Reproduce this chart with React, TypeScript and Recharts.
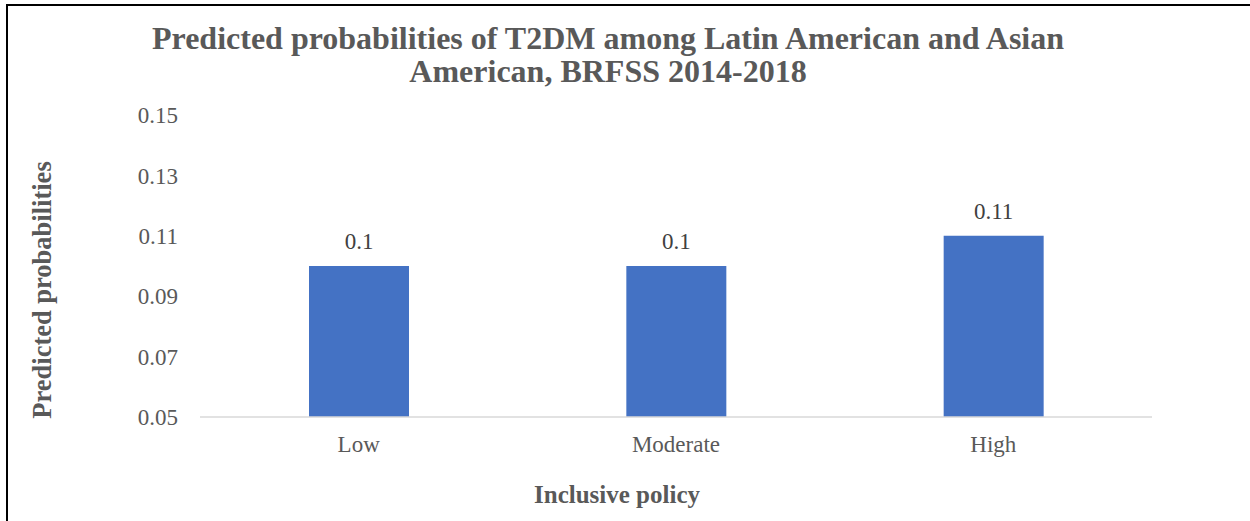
import React from 'react';
import { BarChart, Bar, XAxis, YAxis, LabelList, Label } from 'recharts';

const categories = ['Low', 'Moderate', 'High'];
const probabilities = [0.1, 0.1, 0.11];
const yTicks = [0.05, 0.07, 0.09, 0.11, 0.13, 0.15];

const chartData = categories.map((policy, i) => ({ policy, value: probabilities[i] }));

const FONT = '"Liberation Serif", "Times New Roman", serif';
const GREY = '#595959';

const YTitle = ({ viewBox }: any) => {
  const cx = viewBox.x + 42;
  const cy = viewBox.y + viewBox.height / 2 + 24;
  return (
    <text
      x={cx}
      y={cy}
      transform={`rotate(-90 ${cx} ${cy})`}
      textAnchor="middle"
      dominantBaseline="central"
      fontFamily={FONT}
      fontWeight="bold"
      fontSize={26.5}
      fill={GREY}
    >
      Predicted probabilities
    </text>
  );
};

const XTitle = ({ viewBox }: any) => (
  <text
    x={viewBox.x + viewBox.width / 2 - 59}
    y={viewBox.y + 86}
    textAnchor="middle"
    fontFamily={FONT}
    fontWeight="bold"
    fontSize={25}
    fill={GREY}
  >
    Inclusive policy
  </text>
);

export default function App() {
  return (
    <div style={{ position: 'absolute', left: 0, top: 0, width: 1250, height: 521, background: '#fff', overflow: 'hidden' }}>
      <div style={{ position: 'absolute', left: 6, top: 4, width: 1250, height: 530, borderTop: '2px solid #000', borderLeft: '2px solid #000' }} />
      <div
        style={{
          position: 'absolute',
          left: 0,
          top: 22,
          width: 1216,
          textAlign: 'center',
          fontFamily: FONT,
          fontWeight: 'bold',
          fontSize: 32,
          lineHeight: '33px',
          color: GREY,
        }}
      >
        Predicted probabilities of T2DM among Latin American and Asian
        <br />
        American, BRFSS 2014-2018
      </div>
      <BarChart
        width={1250}
        height={521}
        data={chartData}
        margin={{ top: 115, right: 98, bottom: 0, left: 0 }}
        style={{ position: 'absolute', left: 0, top: 0 }}
      >
        <XAxis
          dataKey="policy"
          tickLine={false}
          tickSize={0}
          tickMargin={19}
          axisLine={{ stroke: '#d9d9d9', strokeWidth: 1.5 }}
          tick={{ fontFamily: FONT, fontSize: 23, fill: GREY }}
          height={104}
        >
          <Label content={<XTitle />} />
        </XAxis>
        <YAxis
          width={200}
          domain={[0.05, 0.15]}
          ticks={yTicks}
          tickFormatter={(v: number) => v.toFixed(2)}
          tickLine={false}
          tickSize={0}
          tickMargin={22}
          axisLine={false}
          tick={{ fontFamily: FONT, fontSize: 23, fill: GREY }}
        >
          <Label content={<YTitle />} />
        </YAxis>
        <Bar dataKey="value" fill="#4472c4" barSize={100} isAnimationActive={false}>
          <LabelList
            dataKey="value"
            position="top"
            offset={17}
            style={{ fontFamily: FONT, fontSize: 23, fill: '#404040' }}
          />
        </Bar>
      </BarChart>
    </div>
  );
}
